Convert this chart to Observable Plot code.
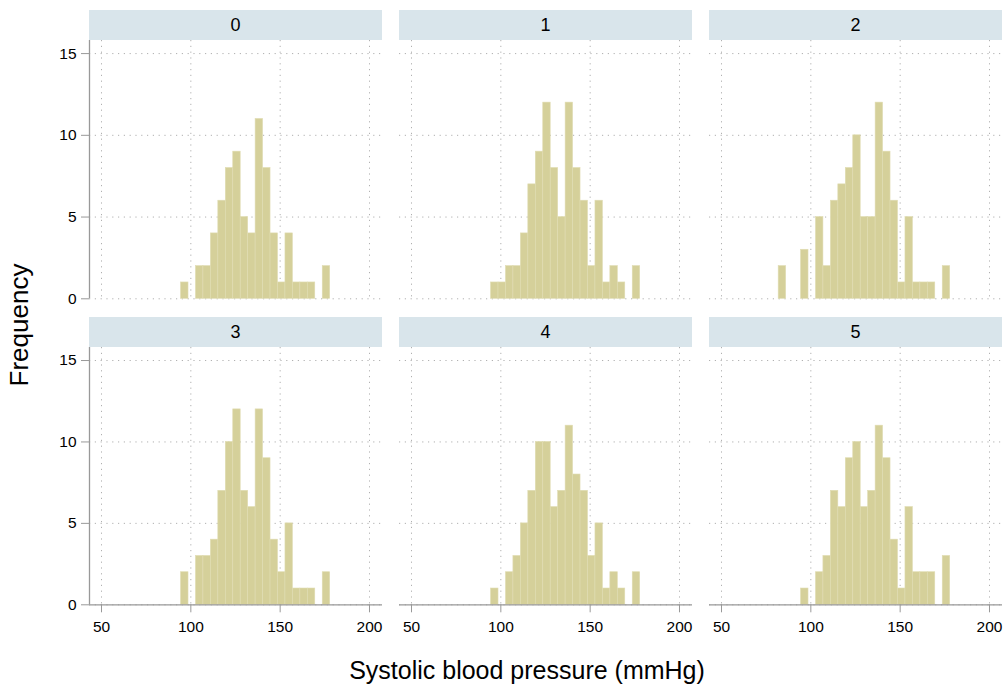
<!DOCTYPE html>
<html><head><meta charset="utf-8">
<script src="https://cdn.jsdelivr.net/npm/d3@7"></script>
<script src="https://cdn.jsdelivr.net/npm/@observablehq/plot@0.6"></script>
<style>
body{margin:0;background:#fff;font-family:"Liberation Sans",Arial,sans-serif;}
#root{position:relative;width:1008px;height:687px;overflow:hidden;background:#fff;}
.strip{position:absolute;background:#d9e5eb;height:30px;line-height:30px;text-align:center;font-size:18px;color:#000;}
.title{position:absolute;font-size:25px;line-height:25px;color:#000;white-space:nowrap;transform:translate(-50%,-50%);}
</style></head><body><div id="root"></div>
<script>
// facet groups
const groups = ["0", "1", "2", "3", "4", "5"];
// common histogram bin edges (mmHg)
const binEdges = [82.0, 86.17, 90.35, 94.52, 98.70, 102.87, 107.04, 111.22, 115.39, 119.57, 123.74, 127.91,
  132.09, 136.26, 140.43, 144.61, 148.78, 152.96, 157.13, 161.30, 165.48, 169.65, 173.83, 178.0];
// frequency per bin for each group
const counts0 = [0,0,0,1,0,2,2,4,6,8,9,5,4,11,8,4,1,4,1,1,1,0,2];
const counts1 = [0,0,0,1,1,2,2,4,7,9,12,8,5,12,8,6,2,6,1,2,1,0,2];
const counts2 = [2,0,0,3,0,5,2,6,7,8,10,5,5,12,9,6,1,5,1,1,1,0,2];
const counts3 = [0,0,0,2,0,3,3,4,7,10,12,7,6,12,9,4,2,5,1,1,1,0,2];
const counts4 = [0,0,0,1,0,2,3,5,7,10,10,6,7,11,8,7,3,5,1,2,1,0,2];
const counts5 = [0,0,0,1,0,2,3,7,6,9,10,6,7,11,9,4,1,6,2,2,2,0,3];
const xTicks = [50, 100, 150, 200];
const yTicks = [0, 5, 10, 15];
const xDomain = [43.28, 207.28];
const yDomain = [0, 15.8];
const xTitle = "Systolic blood pressure (mmHg)";
const yTitle = "Frequency";

const countsByGroup = [counts0, counts1, counts2, counts3, counts4, counts5];
const root = document.getElementById("root");
const colLeft = [89, 399, 709];
const rowTop = [40, 347];
const rowH = [258.3, 257.3];
const FW = 293;

groups.forEach((g, i) => {
  const c = i % 3, r = Math.floor(i / 3);
  const L = colLeft[c], T = rowTop[r];
  const data = countsByGroup[i]
    .map((n, j) => ({x1: binEdges[j], x2: binEdges[j + 1], n}))
    .filter(d => d.n > 0);
  const ml = c === 0 ? 89 : 15;
  const mr = 5;
  const mb = r === 1 ? 45 : 0;
  const marks = [
    Plot.gridX(xTicks, {stroke: "#b0b0b0", strokeOpacity: 1, strokeDasharray: "1.2,4.6"}),
    Plot.gridY(yTicks, {stroke: "#b0b0b0", strokeOpacity: 1, strokeDasharray: "1.2,4.6"}),
    Plot.rectY(data, {x1: "x1", x2: "x2", y: "n", fill: "#d5d09a", stroke: "#e0dcb2", strokeWidth: 0.6})
  ];
  if (c === 0) {
    marks.push(Plot.ruleX([xDomain[0]], {stroke: "#999", strokeWidth: 1.3}));
    marks.push(Plot.axisY(yTicks, {tickSize: 8, tickPadding: 5, fontSize: 15, stroke: "#999", fill: "#000", label: null}));
  }
  if (r === 1) {
    marks.push(Plot.ruleY([0], {stroke: "#999", strokeWidth: 1.3}));
    marks.push(Plot.axisX(xTicks, {tickSize: 8, tickPadding: 8, fontSize: 15, stroke: "#999", fill: "#000", label: null}));
  }
  const svg = Plot.plot({
    width: ml + FW + mr,
    height: rowH[r] + mb,
    marginLeft: ml, marginRight: mr, marginTop: 0, marginBottom: mb,
    x: {domain: xDomain, ...(r === 1 ? {} : {axis: null})},
    y: {domain: yDomain, ...(c === 0 ? {} : {axis: null})},
    style: {position: "absolute", left: (L - ml) + "px", top: T + "px", background: "none", overflow: "visible",
      fontFamily: "'Liberation Sans', Arial, sans-serif", maxWidth: "none"},
    marks
  });
  d3.select(svg).selectAll("text").style("font-size", "15.5px").style("font-family", "'Liberation Sans', Arial, sans-serif");
  root.appendChild(svg);
  const strip = document.createElement("div");
  strip.className = "strip";
  strip.style.left = L + "px";
  strip.style.top = (T - 30) + "px";
  strip.style.width = FW + "px";
  strip.textContent = g;
  root.appendChild(strip);
});

const xt = document.createElement("div");
xt.className = "title";
xt.style.left = "527px"; xt.style.top = "670px";
xt.textContent = xTitle;
root.appendChild(xt);
const yt = document.createElement("div");
yt.className = "title";
yt.style.fontSize = "26px";
yt.style.lineHeight = "26px";
yt.style.left = "19px"; yt.style.top = "325px";
yt.style.transform = "translate(-50%,-50%) rotate(-90deg)";
yt.textContent = yTitle;
root.appendChild(yt);
</script></body></html>
